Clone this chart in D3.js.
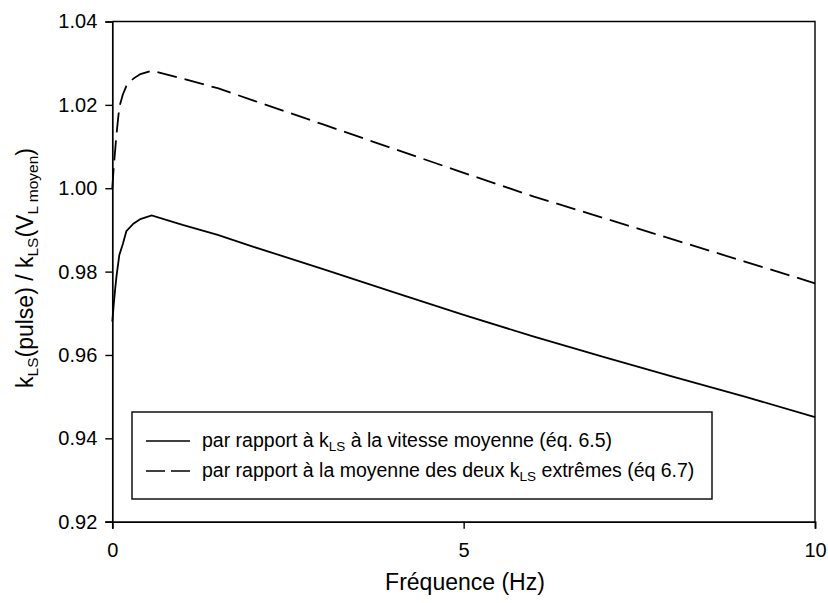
<!DOCTYPE html>
<html>
<head>
<meta charset="utf-8">
<script src="https://cdn.jsdelivr.net/npm/d3@7"></script>
<style>
  html, body { margin: 0; padding: 0; background: #fff; }
  svg text { font-family: "Liberation Sans", Arial, sans-serif; fill: #000; }
</style>
</head>
<body>
<svg id="chart" width="828" height="603"></svg>
<script>
// ---- data ----
const freq = [0, 0.02, 0.04, 0.06, 0.1, 0.15, 0.2, 0.3, 0.4, 0.56, 1, 1.5, 2, 3, 4, 5, 6, 7, 8, 9, 10];
const ratioMoyenne = [0.968, 0.972, 0.9757, 0.9789, 0.984, 0.9866, 0.9897, 0.9915, 0.9926, 0.9935, 0.9912, 0.9888, 0.986, 0.9806, 0.9751, 0.9696, 0.9644, 0.9595, 0.9547, 0.95, 0.9451];
const ratioExtremes = [1.000, 1.005, 1.009, 1.013, 1.0195, 1.0225, 1.0245, 1.0263, 1.0274, 1.0282, 1.0263, 1.024, 1.0211, 1.0153, 1.0095, 1.0037, 0.998, 0.9928, 0.9876, 0.9824, 0.9772];
const xTicks = [0, 5, 10];
const yTicks = [0.92, 0.94, 0.96, 0.98, 1.00, 1.02, 1.04];

(function () {
const svg = d3.select("#chart");
const mL = 112.3, mR = 815, mT = 21.5, mB = 521.7;

const x = d3.scaleLinear().domain([0, 10]).range([mL, mR]);
const y = d3.scaleLinear().domain([0.92, 1.04]).range([mB, mT]);

// frame (top & right)
svg.append("path")
  .attr("d", `M${mL},${mT}H${mR}V${mB}`)
  .attr("fill", "none").attr("stroke", "#000").attr("stroke-width", 1.4);

// axes
const xAxis = svg.append("g").attr("transform", `translate(0,${mB})`)
  .call(d3.axisBottom(x).tickValues(xTicks).tickFormat(d3.format("d")).tickSize(7).tickPadding(14));
const yAxis = svg.append("g").attr("transform", `translate(${mL},0)`)
  .call(d3.axisLeft(y).tickValues(yTicks).tickFormat(d3.format(".2f")).tickSize(7).tickPadding(8));
[xAxis, yAxis].forEach(g => {
  g.select(".domain").attr("stroke", "#000").attr("stroke-width", 1.7);
  g.selectAll(".tick line").attr("stroke", "#000").attr("stroke-width", 1.4);
  g.selectAll("text").attr("font-size", 20).attr("font-family", "Liberation Sans, Arial, sans-serif").attr("fill", "#000");
});

// lines
const line = d3.line().x((d, i) => x(freq[i])).y(d => y(d));
svg.append("path").datum(ratioMoyenne)
  .attr("d", line).attr("fill", "none").attr("stroke", "#000").attr("stroke-width", 1.8);
svg.append("path").datum(ratioExtremes)
  .attr("d", line).attr("fill", "none").attr("stroke", "#000").attr("stroke-width", 1.8)
  .attr("stroke-dasharray", "20,8");

// axis titles
svg.append("text").attr("x", 465).attr("y", 590).attr("text-anchor", "middle")
  .attr("font-size", 23).text("Fréquence (Hz)");

const yt = svg.append("text").attr("transform", "translate(33,268) rotate(-90)")
  .attr("text-anchor", "middle").attr("font-size", 23);
yt.append("tspan").text("k");
yt.append("tspan").attr("font-size", 15.5).attr("dy", 5).text("LS");
yt.append("tspan").attr("dy", -5).text("(pulse) / k");
yt.append("tspan").attr("font-size", 15.5).attr("dy", 5).text("LS");
yt.append("tspan").attr("dy", -5).text("(V");
yt.append("tspan").attr("font-size", 15.5).attr("dy", 5).text("L moyen");
yt.append("tspan").attr("dy", -5).text(")");

// legend
const lg = svg.append("g");
lg.append("rect").attr("x", 132).attr("y", 412).attr("width", 580).attr("height", 87)
  .attr("fill", "#fff").attr("stroke", "#000").attr("stroke-width", 1.4);
const legendItems = [
  { dash: null, parts: ["par rapport à k", "LS", " à la vitesse moyenne (éq. 6.5)"] },
  { dash: "19,6", parts: ["par rapport à la moyenne des deux k", "LS", " extrêmes (éq 6.7)"] }
];
legendItems.forEach((it, i) => {
  const cy = 441 + i * 30;
  lg.append("line").attr("x1", 146).attr("x2", 190).attr("y1", cy).attr("y2", cy)
    .attr("stroke", "#000").attr("stroke-width", 1.5)
    .attr("stroke-dasharray", it.dash);
  const t = lg.append("text").attr("x", 202).attr("y", cy + 6).attr("font-size", 19.5);
  t.append("tspan").text(it.parts[0]);
  t.append("tspan").attr("font-size", 13.5).attr("dy", 4).text(it.parts[1]);
  t.append("tspan").attr("dy", -4).text(it.parts[2]);
});
})();
</script>
</body>
</html>
